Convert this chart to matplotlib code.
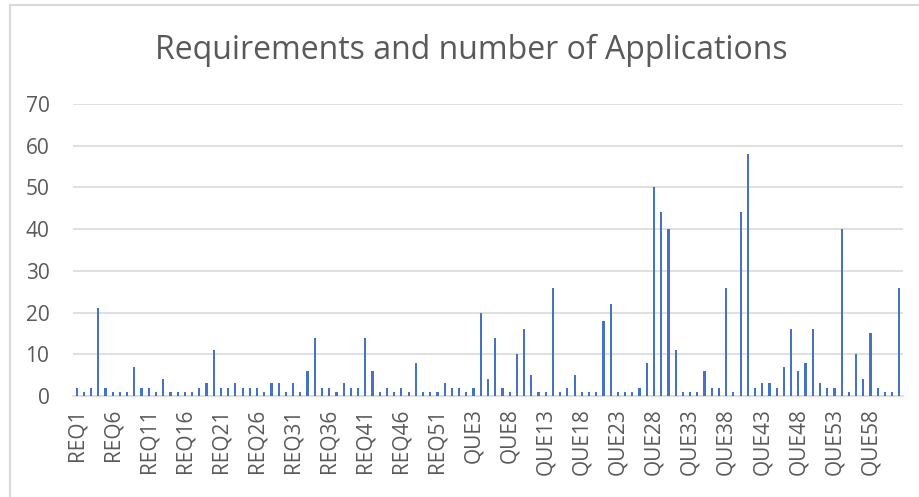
import numpy as np
import matplotlib.pyplot as plt
from matplotlib.lines import Line2D

plt.rcParams['font.family'] = ['Open Sans', 'DejaVu Sans']

req_values = [2, 1, 2, 21, 2, 1, 1, 1, 7, 2,
              2, 1, 4, 1, 1, 1, 1, 2, 3, 11,
              2, 2, 3, 2, 2, 2, 1, 3, 3, 1,
              3, 1, 6, 14, 2, 2, 1, 3, 2, 2,
              14, 6, 1, 2, 1, 2, 1, 8, 1, 1,
              1, 3, 2]
que_values = [2, 1, 2, 20, 4, 14, 2, 1, 10, 16,
              5, 1, 1, 26, 1, 2, 5, 1, 1, 1,
              18, 22, 1, 1, 1, 2, 8, 50, 44, 40,
              11, 1, 1, 1, 6, 2, 2, 26, 1, 44,
              58, 2, 3, 3, 2, 7, 16, 6, 8, 16,
              3, 2, 2, 40, 1, 10, 4, 15, 2, 1,
              1, 26]

categories = ['REQ%d' % (i + 1) for i in range(len(req_values))] + \
             ['QUE%d' % (i + 1) for i in range(len(que_values))]
values = req_values + que_values

grey = '#595959'
fig = plt.figure(figsize=(9.2, 4.97), dpi=100)
ax = fig.add_axes([73/920, 1 - 396/497, 830/920, 292/497])

x = np.arange(len(values))
ax.bar(x, values, width=0.3, color='#4472C4', zorder=3)

ax.set_xlim(-0.5, len(values) - 0.5)
ax.set_ylim(0, 70)
ax.set_yticks(range(0, 71, 10))
ax.set_xticks(x[::5])
ax.set_xticklabels(categories[::5], rotation=90)
ax.tick_params(axis='both', length=0, labelsize=15, labelcolor=grey)
ax.tick_params(axis='y', pad=17)
ax.tick_params(axis='x', pad=9)
ax.grid(axis='y', color='#D9D9D9', linewidth=1.2, zorder=0)
for s in ['top', 'right', 'left']:
    ax.spines[s].set_visible(False)
ax.spines['bottom'].set_color('#D9D9D9')
ax.spines['bottom'].set_linewidth(1.2)

fig.text(471/920, 1 - 50/497, 'Requirements and number of Applications',
         ha='center', va='center', fontsize=23, color=grey)

# chart frame (top and left edges visible in the crop)
fig.add_artist(Line2D([10/920, 10/920], [0, 1 - 5/497], transform=fig.transFigure,
                      color='#D9D9D9', linewidth=1.5))
fig.add_artist(Line2D([10/920, 1], [1 - 5/497, 1 - 5/497], transform=fig.transFigure,
                      color='#D9D9D9', linewidth=1.5))

plt.savefig('out.png', dpi=100)
